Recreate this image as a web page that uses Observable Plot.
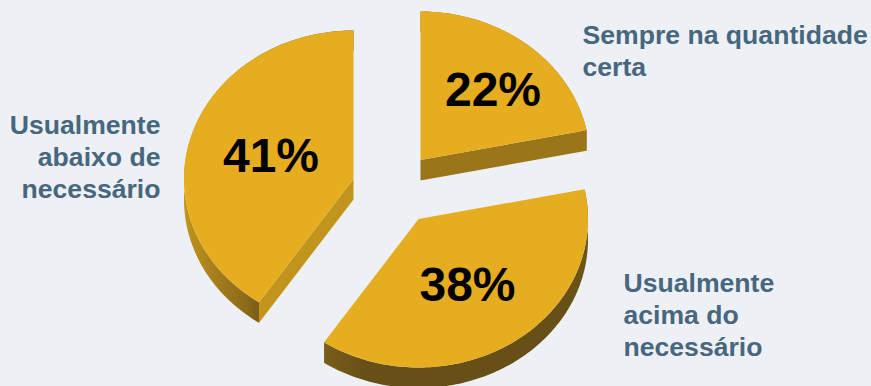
<!DOCTYPE html>
<html>
<head>
<meta charset="utf-8">
<script src="https://cdn.jsdelivr.net/npm/d3@7"></script>
<script src="https://cdn.jsdelivr.net/npm/@observablehq/plot@0.6"></script>
<style>
  html, body { margin: 0; padding: 0; background: #edf1f5; }
  svg { display: block; }
</style>
</head>
<body>
<script>
// Survey shares, clockwise from twelve o'clock
const categories = ["Sempre na quantidade\ncerta", "Usualmente\nacima do\nnecessário", "Usualmente\nabaixo de\nnecessário"];
const shares = [22, 38, 41];

// Tilted pie geometry
const width = 871, height = 386;
const rx = 169.5, ry = 148.5, depth = 20.5;
const apexes = [[420, 159.5], [418, 218.5], [353, 178.5]];
const valuePos = [[492.5, 90], [467, 285], [270.5, 156]];
const labelPos = [[582, 49.5, "start"], [623, 313.5, "start"], [160, 155, "end"]];

const faceColor = "#e6ad20";
const labelColor = "#47677e";

const arcs = d3.pie().sort(null).value(d => d)(shares);
const point = (c, t, r = 1, dy = 0) => ({
  x: c[0] + rx * r * Math.sin(t),
  y: c[1] - ry * r * Math.cos(t) + dy
});
const arcPoints = (c, a, b, dy = 0) => {
  const n = Math.max(2, Math.ceil((b - a) / 0.02));
  return d3.range(n + 1).map(i => point(c, a + (b - a) * i / n, 1, dy));
};

const faces = [], walls = [], cuts = [];
arcs.forEach((arc, k) => {
  const c = apexes[k];
  const a = arc.startAngle, b = arc.endAngle;
  faces.push(...[point(c, a, 0), ...arcPoints(c, a, b)].map(p => ({...p, k})));
  walls.push(...[...arcPoints(c, a, b), ...arcPoints(c, a, b, depth).reverse()].map(p => ({...p, k})));
});
// Radial cut faces that turn toward the viewer
const cutFace = (k, t, fill) => {
  const c = apexes[k];
  return {fill, pts: [point(c, t, 0), point(c, t), point(c, t, 1, depth), point(c, t, 0, depth)]};
};
cuts.push(cutFace(0, arcs[0].endAngle, "#9a7519"));
cuts.push(cutFace(2, arcs[2].startAngle, "#c1951c"));

const gradient = (id, x1, x2, stops) => () => {
  const g = d3.create("svg:linearGradient")
    .attr("id", id).attr("gradientUnits", "userSpaceOnUse")
    .attr("x1", x1).attr("x2", x2).attr("y1", 0).attr("y2", 0);
  stops.forEach(([o, col]) => g.append("stop").attr("offset", o).attr("stop-color", col));
  return g.node();
};

const wallFill = ["#9a7519", "url(#wall-bottom)", "url(#wall-left)"];

const chart = Plot.plot({
  width, height,
  margin: 0,
  style: {background: "#edf1f5"},
  x: {domain: [0, width], range: [0, width], axis: null},
  y: {domain: [0, height], range: [0, height], axis: null},
  marks: [
    gradient("wall-left", 183, 261, [[0, "#c1951c"], [0.45, "#a27c1b"], [0.8, "#8c6b1a"], [1, "#77591b"]]),
    gradient("wall-bottom", 325, 587, [[0, "#7a5c1b"], [0.15, "#665018"], [0.9, "#665018"], [1, "#6e5518"]]),
    ...shares.map((_, k) => Plot.line(walls.filter(d => d.k === k), {
      x: "x", y: "y", fill: wallFill[k], stroke: "none"
    })),
    ...cuts.map(cut => Plot.line(cut.pts, {x: "x", y: "y", fill: cut.fill, stroke: "none"})),
    ...shares.map((_, k) => Plot.line(faces.filter(d => d.k === k), {
      x: "x", y: "y", fill: faceColor, stroke: "none"
    })),
    Plot.text(shares, {
      x: (_, i) => valuePos[i][0], y: (_, i) => valuePos[i][1],
      text: d => `${d}%`,
      fontFamily: "Liberation Sans", fontWeight: "bold", fontSize: 48, fill: "#000", textAnchor: "middle"
    }),
    ...categories.map((label, i) => Plot.text([label], {
      x: () => labelPos[i][0], y: () => labelPos[i][1],
      text: d => d,
      textAnchor: labelPos[i][2],
      lineHeight: 1.2, fontFamily: "Liberation Sans", fontWeight: "bold", fontSize: 26.6, fill: labelColor
    }))
  ]
});
document.body.appendChild(chart);
</script>
</body>
</html>
